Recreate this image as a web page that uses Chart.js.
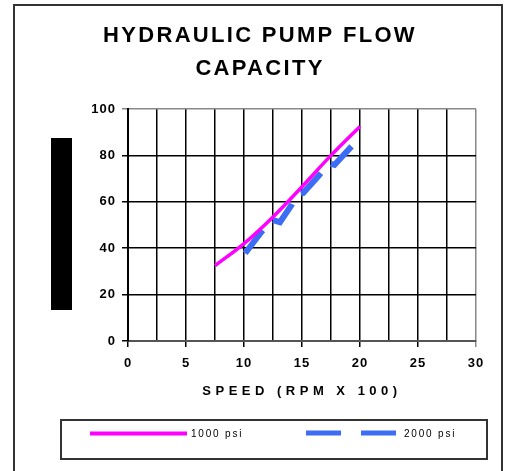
<!DOCTYPE html>
<html>
<head>
<meta charset="utf-8">
<script src="https://cdn.jsdelivr.net/npm/chart.js@4.4.1/dist/chart.umd.min.js"></script>
<style>
  body { margin: 0; background: #fff; }
  #wrap { position: relative; width: 507px; height: 471px; }
  #legend { position: absolute; left: 60px; top: 419px; width: 424px; height: 37px; border: 2px solid #333;
    font: 10px "Liberation Sans", Arial, sans-serif; letter-spacing: 1.8px; color: #000; }
  .item { position: absolute; top: 12px; display: flex; align-items: center; transform: translateY(-50%); }
  .sample { display: inline-block; height: 5px; margin-right: 4px; }
</style>
</head>
<body>
<div id="wrap">
  <canvas id="pumpChart" width="507" height="471"></canvas>
  <div id="legend"></div>
</div>
<script>
// values
const speed1000 = [7.5, 10, 12.5, 15, 17.5, 20];
const flow1000 = [32.5, 42, 53.5, 66.5, 80, 92.5];
const speed2000 = [10.1, 11.4, 12.4, 13.1, 14.1, 14.5, 15.1, 16.4, 17.3, 17.8, 19.4];
const flow2000 = [37.8, 46.4, 52.2, 51.2, 58.6, 63, 63.8, 71, 76.7, 75.9, 84.6];
const seriesNames = ['1000 psi', '2000 psi'];
const xTicks = [0, 5, 10, 15, 20, 25, 30];
const yTicks = [0, 20, 40, 60, 80, 100];
const titleLines = ['HYDRAULIC PUMP FLOW', 'CAPACITY'];
const xTitle = 'SPEED (RPM X 100)';

const font = '"Liberation Sans", Arial, sans-serif';

// the old excel export has spaced out letters everywhere
function spaced(obj, name, px) {
	if (obj[name]._spaced) return;
	const orig = obj[name];
	obj[name] = function () {
		this.ctx.letterSpacing = px;
		orig.apply(this, arguments);
		this.ctx.letterSpacing = '1px';
	};
	obj[name]._spaced = true;
}

const spacing = {
	id: 'spacing',
	beforeLayout(chart) { chart.ctx.letterSpacing = '1px'; },
	beforeDraw(chart) {
		chart.ctx.letterSpacing = '1px';
		spaced(chart.scales.x, 'drawTitle', '4.5px');
		spaced(chart.titleBlock, 'draw', '2.3px');
	},
	afterDraw(chart) {
		const ctx = chart.ctx;
		ctx.save();
		// page frame
		ctx.strokeStyle = '#333';
		ctx.lineWidth = 2;
		ctx.strokeRect(14, 5, 488, 480);
		// blacked out y axis title
		ctx.fillStyle = '#000';
		ctx.fillRect(51, 138, 21, 172);
		ctx.restore();
	}
};

const ctx = document.getElementById('pumpChart');
const chart = new Chart(ctx, {
	type: 'line',
	data: {
		datasets: [{
			label: seriesNames[0],
			data: speed1000.map((s, i) => ({ x: s, y: flow1000[i] })),
			borderColor: '#ff00ff',
			backgroundColor: '#ff00ff',
			borderWidth: 3.5,
			borderDash: [],
			tension: 0.4,
			pointRadius: 0
		}, {
			label: seriesNames[1],
			data: speed2000.map((s, i) => ({ x: s, y: flow2000[i] })),
			borderColor: '#3d6cf5',
			backgroundColor: '#3d6cf5',
			borderWidth: 6,
			borderDash: [29, 15],
			borderCapStyle: 'butt',
			borderJoinStyle: 'miter',
			tension: 0,
			pointRadius: 0
		}]
	},
	options: {
		responsive: false,
		animation: false,
		layout: { padding: { top: 8, left: 44, right: 31, bottom: 70 } },
		plugins: {
			legend: { display: false },
			tooltip: { enabled: false },
			title: {
				display: true,
				text: titleLines,
				color: '#000',
				font: { family: font, size: 22, weight: 'bold', lineHeight: 1.5 },
				padding: { top: 11, bottom: 24 }
			}
		},
		scales: {
			x: {
				type: 'linear',
				min: 0,
				max: 30,
				afterFit: scale => { scale.height = 60; },
				ticks: {
					stepSize: 2.5,
					autoSkip: false,
					maxRotation: 0,
					padding: 9,
					color: '#000',
					font: { family: font, size: 13, weight: 'bold' },
					callback: v => xTicks.includes(v) ? v : ''
				},
				grid: {
					color: c => c.tick && c.tick.value === 30 ? '#888' : '#000',
					tickColor: c => c.tick && xTicks.includes(c.tick.value) ? (c.tick.value === 30 ? '#888' : '#000') : 'rgba(0,0,0,0)',
					lineWidth: 1.5,
					tickLength: 6
				},
				border: { color: '#555', width: 2 },
				title: {
					display: true,
					text: xTitle,
					color: '#000',
					font: { family: font, size: 13, weight: 'bold' },
					padding: { top: 4, bottom: 2 }
				}
			},
			y: {
				min: 0,
				max: 100,
				afterFit: scale => { scale.width = 84; },
				afterBuildTicks: scale => { scale.ticks = yTicks.map(v => ({ value: v })); },
				ticks: {
					padding: 6,
					color: '#000',
					font: { family: font, size: 13, weight: 'bold' }
				},
				grid: {
					color: c => c.tick && c.tick.value === 100 ? '#888' : '#000',
					lineWidth: 1.5,
					tickLength: 6
				},
				border: { color: '#000', width: 2 }
			}
		}
	},
	plugins: [spacing]
});
chart.draw();

// html legend built from the datasets
const legendBox = document.getElementById('legend');
const legendLeft = [28, 244];
const sampleWidth = [97, 90];
chart.data.datasets.forEach((ds, i) => {
	const item = document.createElement('div');
	item.className = 'item';
	item.style.left = legendLeft[i] + 'px';
	const sample = document.createElement('span');
	sample.className = 'sample';
	sample.style.width = sampleWidth[i] + 'px';
	if (ds.borderDash.length) {
		sample.style.background = 'repeating-linear-gradient(to right, ' + ds.borderColor + ' 0 35px, transparent 35px 55px)';
		sample.style.marginRight = '8px';
	} else {
		sample.style.background = ds.borderColor;
		sample.style.height = '4px';
	}
	const text = document.createElement('span');
	text.textContent = ds.label;
	item.appendChild(sample);
	item.appendChild(text);
	legendBox.appendChild(item);
});
</script>
</body>
</html>
